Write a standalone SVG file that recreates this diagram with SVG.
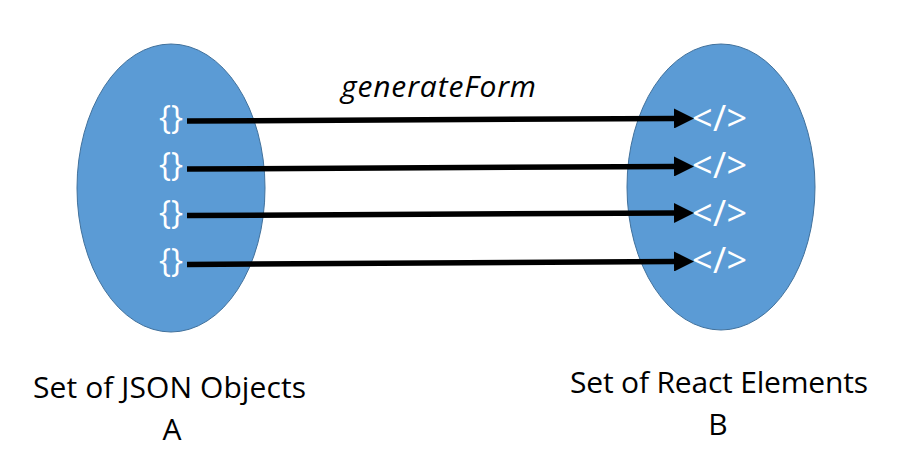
<svg xmlns="http://www.w3.org/2000/svg" width="915" height="473" viewBox="0 0 915 473">
<style>
.set{fill:#5B9BD5;stroke:#41719C;stroke-width:1}
.sym{fill:#FFFFFF;font-family:"Open Sans","Noto Sans",sans-serif;font-weight:400}
.lbl{fill:#000000;font-family:"Open Sans","Noto Sans",sans-serif;font-size:30px}
.conn{stroke:#000000;stroke-width:5.5;fill:none}
</style>
<defs>
<marker id="ah" markerUnits="userSpaceOnUse" markerWidth="20" markerHeight="20" viewBox="0 0 18 18" refX="0" refY="9" orient="auto">
<path d="M0,0 L18,9 L0,18 Z" fill="#000000"/>
</marker>
</defs>
<rect width="915" height="473" fill="#FFFFFF"/>
<g id="setA">
<ellipse class="set" cx="171" cy="188" rx="94" ry="144"/>
<text class="sym" font-size="32" x="159" y="129">{}</text>
<text class="sym" font-size="32" x="159" y="176">{}</text>
<text class="sym" font-size="32" x="159" y="224">{}</text>
<text class="sym" font-size="32" x="159" y="272">{}</text>
</g>
<g id="setB">
<ellipse class="set" cx="721" cy="187" rx="94" ry="143"/>
<text class="sym" font-size="36" x="692" y="131" textLength="55">&lt;/&gt;</text>
<text class="sym" font-size="36" x="692" y="178" textLength="55">&lt;/&gt;</text>
<text class="sym" font-size="36" x="692" y="226" textLength="55">&lt;/&gt;</text>
<text class="sym" font-size="36" x="692" y="273" textLength="55">&lt;/&gt;</text>
</g>
<g id="connectors">
<line class="conn" x1="187" y1="121" x2="674" y2="118.5" marker-end="url(#ah)"/>
<line class="conn" x1="187" y1="169" x2="674" y2="166.5" marker-end="url(#ah)"/>
<line class="conn" x1="187" y1="215.5" x2="674" y2="213" marker-end="url(#ah)"/>
<line class="conn" x1="187" y1="264.5" x2="674" y2="261.5" marker-end="url(#ah)"/>
<text class="lbl" font-size="27" font-style="italic" x="341" y="97" textLength="195">generateForm</text>
</g>
<g id="labelA">
<text class="lbl" x="33" y="398" textLength="273">Set of JSON Objects</text>
<text class="lbl" x="172" y="440" text-anchor="middle">A</text>
</g>
<g id="labelB">
<text class="lbl" x="570" y="393" textLength="298">Set of React Elements</text>
<text class="lbl" x="718" y="435" text-anchor="middle">B</text>
</g>
</svg>
